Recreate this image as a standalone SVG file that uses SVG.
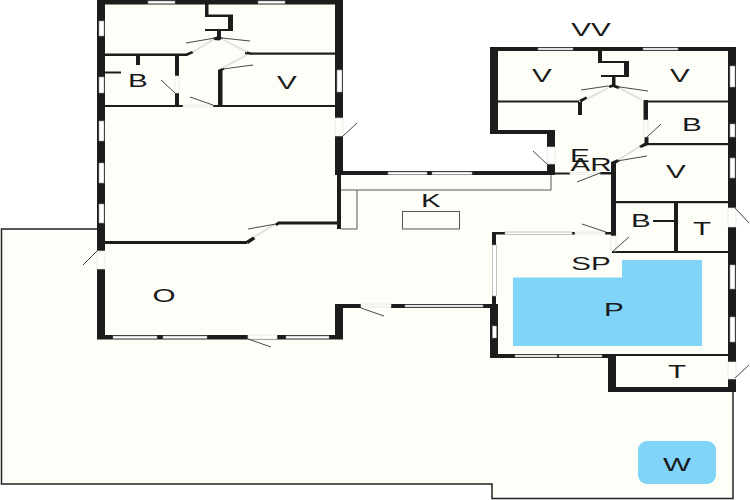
<svg xmlns="http://www.w3.org/2000/svg" width="750" height="500" viewBox="0 0 750 500">
<style>
.w{fill:#1c1c1c;stroke:none}
.win{fill:#fff;stroke:#999;stroke-width:.6}
.gap{fill:#fdfdf9;stroke:#ddd;stroke-width:.6}
.sw{fill:none;stroke:#333;stroke-width:.9}
.lf{fill:none;stroke:#ddd;stroke-width:1.6}
.g{fill:none;stroke:#555;stroke-width:1}
text{font-family:"Liberation Sans",Arial,sans-serif;font-size:18.500px;fill:#1a1a1a;text-anchor:middle}
</style>
<rect width="750" height="500" fill="#fff"/>
<path id="site" d="M1.500 229H97V0H343V172H547V133H490V47H736V391H733V498.500H492V484H1.500Z" fill="#fefef8"/>
<path d="M97 229H1.500V484H492V498.500H733V391" fill="none" stroke="#222" stroke-width="1.500"/>
<g id="pool"><path d="M513 277.500H622V260H702V346H513Z" fill="#7fd4f8"/></g>
<g id="whirlpool"><rect x="638" y="441" width="78" height="43" rx="9" fill="#7fd4f8"/></g>
<g id="fixtures">
<path class="g" d="M551 175V190H341M357 190V229H341"/>
<rect class="g" x="402.500" y="211.500" width="57" height="17.500"/>
</g>
<g id="walls">
<rect class="w" x="97" y="0" width="246" height="4.500"/>
<rect class="w" x="97" y="0" width="8" height="251"/>
<rect class="w" x="97" y="269" width="8" height="70"/>
<rect class="w" x="335" y="0" width="8" height="118"/>
<rect class="w" x="335" y="136" width="8" height="39"/>
<rect class="w" x="97" y="335" width="246" height="4.500"/>
<rect class="w" x="335" y="304" width="8" height="35"/>
<rect class="w" x="335" y="304" width="26" height="4"/>
<rect class="w" x="391" y="304" width="102" height="4"/>
<rect class="w" x="105" y="241" width="142" height="3"/>
<path class="w" d="M246 241L253 236.500L255.500 239L248 244Z"/>
<path class="w" d="M275 224L278 221.500H337V224.500H279L276.500 226Z"/>
<rect class="w" x="105" y="53.500" width="82" height="2.500"/>
<path class="w" d="M186 53.500L192 51L193.500 53L187 56Z"/>
<path class="w" d="M245 50.500L252 53V54.500H245Z"/>
<rect class="w" x="250" y="52.500" width="85" height="2.200"/>
<rect class="w" x="136" y="56" width="4" height="9"/>
<rect class="w" x="105" y="71.500" width="16" height="2"/>
<rect class="w" x="175" y="56" width="4" height="20"/>
<rect class="w" x="175" y="93" width="4" height="13"/>
<rect class="w" x="105" y="105" width="78" height="2"/>
<rect class="w" x="213" y="105" width="122" height="2"/>
<rect class="w" x="218" y="70" width="4.500" height="36"/>
<path class="w" d="M218 70L223 67.500L224.500 69.500L220 72Z"/>
<path class="w" d="M205 4H208.500V14.500H233V31H205V29H228V17H205Z"/>
<rect class="w" x="217" y="31" width="4" height="7"/>
<path class="w" d="M213 38L218 36L223 38L219 40.500L214 40Z"/>
<rect class="w" x="337" y="171" width="218" height="4"/>
<rect class="w" x="337" y="171" width="4" height="58"/>
<rect class="w" x="547" y="130" width="8" height="17"/>
<rect class="w" x="547" y="164" width="8" height="11"/>
<rect class="w" x="555" y="172.500" width="15" height="2"/>
<rect class="w" x="600" y="172" width="12" height="2.500"/>
<rect class="w" x="490" y="47" width="246" height="4"/>
<rect class="w" x="490" y="47" width="8" height="87"/>
<rect class="w" x="490" y="130" width="65" height="4"/>
<rect class="w" x="728" y="47" width="8" height="161"/>
<rect class="w" x="728" y="227" width="8" height="135"/>
<rect class="w" x="728" y="379" width="8" height="13"/>
<rect class="w" x="498" y="100.500" width="81" height="2"/>
<path class="w" d="M579 100L586 96.500L587.500 98.500L581 102.500Z"/>
<rect class="w" x="578" y="102" width="4" height="13"/>
<rect class="w" x="645" y="100.500" width="83" height="2"/>
<rect class="w" x="643.500" y="100" width="4.500" height="20"/>
<rect class="w" x="644.500" y="137" width="4" height="7"/>
<path class="w" d="M639 146L646 142L648 145L641 148Z"/>
<rect class="w" x="646" y="143" width="82" height="2.200"/>
<path class="w" d="M598 51H602V61H629V77H601V75H624V63H598Z"/>
<rect class="w" x="612" y="77" width="3.500" height="8"/>
<path class="w" d="M608 86L613 84L621 87L618 89L613 87L610 88Z"/>
<rect class="w" x="611" y="162" width="5" height="74"/>
<path class="w" d="M611 162L618 159L620 161L615 164Z"/>
<rect class="w" x="616" y="201" width="112" height="2.200"/>
<rect class="w" x="674" y="203" width="4" height="48"/>
<rect class="w" x="653" y="220" width="21" height="2"/>
<rect class="w" x="612" y="251" width="116" height="2"/>
<rect class="w" x="492" y="232" width="13" height="2.500"/>
<rect class="w" x="492" y="232" width="4" height="13"/>
<rect class="w" x="492" y="296" width="4" height="8"/>
<rect class="w" x="572" y="232" width="3" height="2.500"/>
<rect class="w" x="605" y="232" width="7" height="2.500"/>
<rect class="w" x="490" y="304" width="8" height="54"/>
<rect class="w" x="490" y="354" width="126" height="4"/>
<rect class="w" x="608" y="354" width="8" height="38"/>
<rect class="w" x="616" y="354" width="112" height="2"/>
<rect class="w" x="608" y="387" width="128" height="5"/>
</g>
<g id="windows">
<rect class="win" x="148" y="1" width="27" height="2.500"/>
<rect class="win" x="258" y="1" width="27" height="2.500"/>
<rect class="win" x="99" y="21" width="5" height="15"/>
<rect class="win" x="99" y="77" width="5" height="16"/>
<rect class="win" x="99" y="121" width="5" height="20"/>
<rect class="win" x="99" y="163" width="5" height="20"/>
<rect class="win" x="99" y="204" width="5" height="19"/>
<rect class="win" x="337" y="70" width="5" height="22"/>
<rect class="win" x="113" y="336" width="44" height="2.500"/>
<rect class="win" x="163" y="336" width="44" height="2.500"/>
<rect class="win" x="286" y="336" width="43" height="2.500"/>
<rect class="win" x="405" y="305" width="78" height="2"/>
<rect class="win" x="388" y="172" width="39" height="2.500"/>
<rect class="win" x="432" y="172" width="40" height="2.500"/>
<rect class="win" x="538" y="48" width="35" height="2"/>
<rect class="win" x="643" y="48" width="35" height="2"/>
<rect class="win" x="730" y="66" width="5" height="21"/>
<rect class="win" x="730" y="124" width="5" height="13"/>
<rect class="win" x="730" y="158" width="5" height="20"/>
<rect class="win" x="730" y="265" width="5" height="24"/>
<rect class="win" x="730" y="317" width="5" height="25"/>
<rect class="win" x="505" y="232" width="67" height="2.500"/>
<rect class="win" x="492.500" y="245" width="4" height="51"/>
<rect class="win" x="492.500" y="326" width="4" height="12"/>
<rect class="win" x="515" y="355" width="42" height="2"/>
<rect class="win" x="559" y="355" width="43" height="2"/>
</g>
<g id="doors">
<rect class="gap" x="97" y="251" width="8" height="18"/>
<rect class="gap" x="335" y="118" width="8" height="18"/>
<rect class="gap" x="248" y="335" width="29" height="4"/>
<rect class="gap" x="361" y="304" width="30" height="3"/>
<rect class="gap" x="175" y="76" width="4" height="17"/>
<rect class="gap" x="183" y="105" width="30" height="2"/>
<rect class="gap" x="547" y="147" width="8" height="17"/>
<rect class="gap" x="570" y="172.500" width="30" height="2"/>
<rect class="gap" x="644" y="120" width="4" height="17"/>
<rect class="gap" x="611" y="236" width="5" height="15"/>
<rect class="gap" x="575" y="232" width="30" height="2"/>
<rect class="gap" x="728" y="208" width="8" height="19"/>
<rect class="gap" x="728" y="362" width="8" height="17"/>
<path class="lf" d="M214 39L193 52M222 39L247 52M222 68L247 55M254 237L274 225M608 88L587 99M619 88L642 100M639 147L618 160"/>
<path class="sw" d="M97 251L83 265M343 136L357 123M248 339L271 347M361 308L384 316M175 93L161 80M213 105L190 97M186 43L215 38M250 41L222 38M223 69L253 65M248 229L276 224M533 151L547 164M577 182L600 173M581 90L608 86M648 91L620 87M661 124L646 138M647 156L617 161M582 224L606 232M629 237L612 252M735 208L749 223M735 378L749 365"/>
</g>
<g id="labels">
<text transform="translate(138 87) scale(1.6 1)">B</text>
<text transform="translate(287 89) scale(1.6 1)">V</text>
<text transform="translate(164 302) scale(1.6 1)">O</text>
<text transform="translate(431 207) scale(1.6 1)">K</text>
<text transform="translate(591 36) scale(1.6 1)">VV</text>
<text transform="translate(542 82) scale(1.6 1)">V</text>
<text transform="translate(680 82) scale(1.6 1)">V</text>
<text transform="translate(692 131) scale(1.6 1)">B</text>
<text transform="translate(676 178) scale(1.6 1)">V</text>
<text transform="translate(580 162) scale(1.6 1)">E</text>
<text transform="translate(591 171) scale(1.6 1)">AR</text>
<text transform="translate(641 227) scale(1.6 1)">B</text>
<text transform="translate(702 235) scale(1.6 1)">T</text>
<text transform="translate(591 270) scale(1.6 1)">SP</text>
<text transform="translate(614 316) scale(1.6 1)">P</text>
<text transform="translate(677 378) scale(1.6 1)">T</text>
<text transform="translate(677 471) scale(1.6 1)">W</text>
</g>
</svg>
